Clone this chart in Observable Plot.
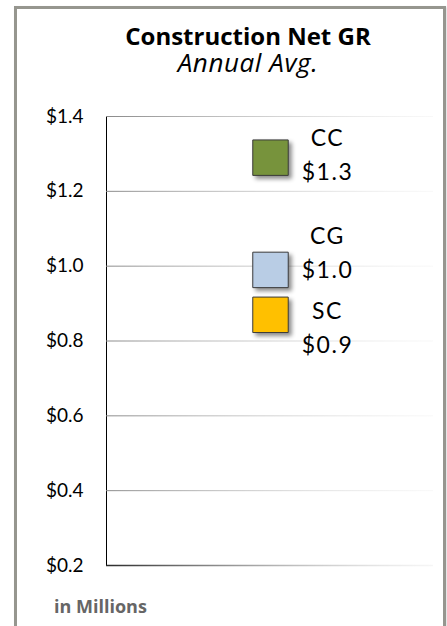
<!DOCTYPE html>
<html>
<head>
<meta charset="utf-8">
<script src="https://cdn.jsdelivr.net/npm/d3@7"></script>
<script src="https://cdn.jsdelivr.net/npm/@observablehq/plot@0.6"></script>
<style>
  html, body { margin: 0; padding: 0; background: #fff; }
  #wrap { position: relative; width: 447px; height: 626px; overflow: hidden; background: #fff; }
  #frame { position: absolute; left: 14px; top: 6px; width: 426px; height: 660px;
           border: 3px solid #96968f; box-shadow: 1px 1px 2px rgba(0,0,0,0.15); }
  #title { position: absolute; left: 0; top: 23px; width: 496px; text-align: center;
           font-family: "Open Sans", sans-serif; color: #000; }
  #title .t1 { font-weight: 700; font-size: 24px; line-height: 26px; height: 26px; }
  #title .t2 { font-style: italic; font-size: 26px; line-height: 26px; letter-spacing: 0.6px; }
  #chart { position: absolute; left: 0; top: 95px; }
  #caption { position: absolute; left: 54px; top: 596px; font-family: "Open Sans", sans-serif;
             font-weight: 700; font-size: 18px; line-height: 20px; color: #666; }
</style>
</head>
<body>
<div id="wrap">
  <div id="frame"></div>
  <div id="title"><div class="t1">Construction Net GR</div><div class="t2">Annual Avg.</div></div>
  <div id="chart"></div>
  <div id="caption">in Millions</div>
</div>
<script>
// Data
const names = ["CC", "CG", "SC"];
const values = [1.29, 0.99, 0.87];
const valueLabels = ["$1.3", "$1.0", "$0.9"];
const colors = ["#77933c", "#b9cde5", "#ffc000"];
const yTicks = [0.2, 0.4, 0.6, 0.8, 1.0, 1.2, 1.4];
const category = "Annual Avg.";

const data = names.map((n, i) => ({name: n, value: values[i], label: valueLabels[i], color: colors[i], cat: category}));

// label vertical offsets relative to the square (style only)
const labelDy = {CC: -6, CG: -20, SC: 10};

const gridRules = yTicks.filter(t => t !== yTicks[0]);
const baseRule = [yTicks[0]];

const chart = Plot.plot({
  width: 447,
  height: 490,
  marginTop: 21,
  marginBottom: 20,
  marginLeft: 106,
  marginRight: 14,
  style: {fontFamily: "Lato, sans-serif", fontSize: "19px", color: "#000", background: "transparent", overflow: "visible"},
  x: {type: "point", domain: [category], axis: null},
  y: {domain: [yTicks[0], yTicks[yTicks.length - 1]], ticks: yTicks, tickFormat: d => "$" + d.toFixed(1),
      tickSize: 0, tickPadding: 23, label: null, line: true},
  marks: [
    Plot.ruleY(gridRules, {stroke: "url(#gridFade)", strokeWidth: 1}),
    Plot.ruleY(baseRule, {stroke: "url(#baseFade)", strokeWidth: 1.5}),
    Plot.dot(data, {x: "cat", y: "value", symbol: "square", r: 20, fill: "color", stroke: "#3a3a3a", strokeWidth: 1}),
    ...names.map(n => Plot.text(data.filter(d => d.name === n), {
      x: "cat", y: "value", text: d => d.name + "\n" + d.label, dx: 57, dy: labelDy[n],
      fontSize: 23, lineHeight: 1.48, fill: "#000", fontFamily: "Lato, sans-serif"
    }))
  ]
});

// gradients for fading rules
const xr = chart.scale("x").range;
const svg = d3.select(chart.tagName.toLowerCase() === "svg" ? chart : chart.querySelector("svg"));
const defs = svg.insert("defs", ":first-child");
function grad(id, c0, c1) {
  const g = defs.append("linearGradient").attr("id", id).attr("gradientUnits", "userSpaceOnUse")
    .attr("x1", xr[0]).attr("x2", xr[1]).attr("y1", 0).attr("y2", 0);
  g.append("stop").attr("offset", "0%").attr("stop-color", c0);
  g.append("stop").attr("offset", "100%").attr("stop-color", c1).attr("stop-opacity", 0.3);
}
grad("gridFade", "#8a8a8a", "#e8e8e8");
grad("baseFade", "#2a2a2a", "#e0e0e0");
svg.selectAll("g[aria-label='dot'] path").style("filter", "drop-shadow(3px 3px 2px rgba(0,0,0,0.45))");
svg.selectAll("g[aria-label='text'] text").style("letter-spacing", "1.5px");

document.getElementById("chart").appendChild(chart);
</script>
</body>
</html>
